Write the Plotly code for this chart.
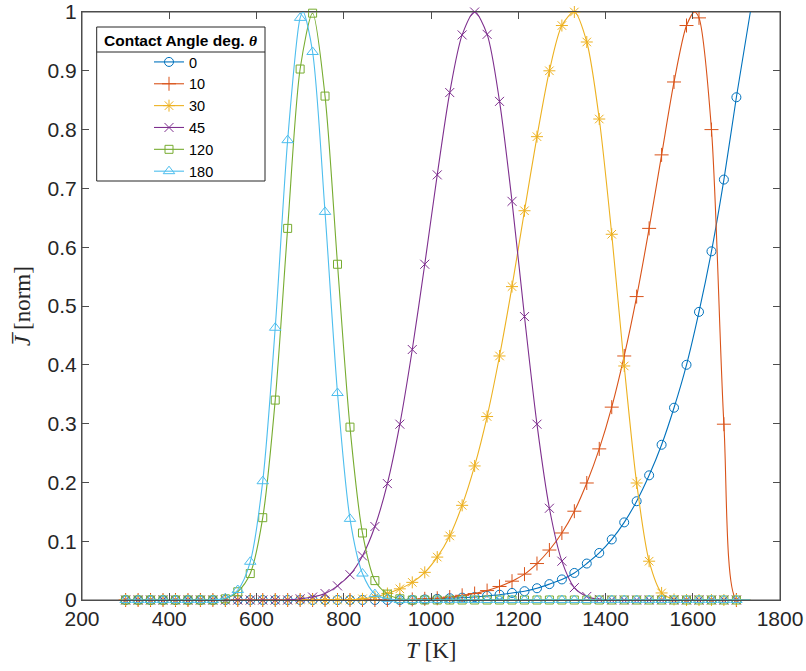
import plotly.graph_objects as go

# ---- data ----
T = [300.0, 328.6, 357.1, 385.7, 414.3, 442.9, 471.4, 500.0, 528.6, 557.1,
     585.7, 614.3, 642.9, 671.4, 700.0, 728.6, 757.1, 785.7, 814.3, 842.9,
     871.4, 900.0, 928.6, 957.1, 985.7, 1014.3, 1042.9, 1071.4, 1100.0, 1128.6,
     1157.1, 1185.7, 1214.3, 1242.9, 1271.4, 1300.0, 1328.6, 1357.1, 1385.7, 1414.3,
     1442.9, 1471.4, 1500.0, 1528.6, 1557.1, 1585.7, 1614.3, 1642.9, 1671.4, 1700.0]

angles = ["0", "10", "30", "45", "120", "180"]

J_0 = [0]*24 + [0.001, 0.002, 0.003, 0.004, 0.005, 0.007, 0.009, 0.012, 0.015, 0.020,
                0.027, 0.035, 0.046, 0.062, 0.080, 0.103, 0.132, 0.168, 0.212, 0.264,
                0.327, 0.400, 0.490, 0.593, 0.715, 0.855]
J_10 = [0]*23 + [0.001, 0.002, 0.003, 0.005, 0.008, 0.011, 0.016, 0.023, 0.032, 0.044,
                 0.062, 0.085, 0.114, 0.151, 0.199, 0.257, 0.328, 0.415, 0.516, 0.632,
                 0.757, 0.881, 0.977, 0.990, 0.800, 0.299, 0.0]
J_30 = [0]*19 + [0.002, 0.005, 0.011, 0.019, 0.030, 0.047, 0.073, 0.109, 0.161, 0.228,
                 0.312, 0.415, 0.533, 0.662, 0.788, 0.900, 0.977, 1.0, 0.949, 0.818,
                 0.622, 0.398, 0.199, 0.066, 0.012, 0.001] + [0]*5
J_45 = [0]*14 + [0.002, 0.005, 0.011, 0.024, 0.043, 0.075, 0.125, 0.198, 0.299, 0.426,
                 0.571, 0.723, 0.863, 0.961, 1.0, 0.962, 0.848, 0.678, 0.482, 0.299,
                 0.156, 0.066, 0.021, 0.006, 0.001] + [0]*11
J_120 = [0]*8 + [0.002, 0.014, 0.045, 0.140, 0.340, 0.632, 0.903, 0.998, 0.857, 0.571,
                 0.294, 0.114, 0.033, 0.010, 0.002] + [0]*27
J_180 = [0]*8 + [0.003, 0.017, 0.065, 0.202, 0.463, 0.782, 0.990, 0.932, 0.660, 0.352,
                 0.138, 0.045, 0.010, 0.002] + [0]*28

series = [J_0, J_10, J_30, J_45, J_120, J_180]

# extra points of the continuous curves (peaks between markers, end of curve)
peak_T = [None, 1604.0, None, None, None, 707.0]
peak_J = [None, 1.0, None, None, None, 1.0]
end_T = 1732.0
end_J = [1.0, 0.0, 0.0, 0.0, 0.0, 0.0]

colors = ["#0072BD", "#D95319", "#EDB120", "#7E2F8E", "#77AC30", "#4DBEEE"]
symbols = ["circle-open", "cross-thin-open", "asterisk-open", "x-thin-open",
           "square-open", "triangle-up-open"]
msizes = [9, 10, 10, 9, 8, 10]

fig = go.Figure()
for i, name in enumerate(angles):
    lx = list(T)
    ly = list(series[i])
    if peak_T[i] is not None:
        lx.append(peak_T[i]); ly.append(peak_J[i])
    lx.append(end_T); ly.append(end_J[i])
    pts = sorted(zip(lx, ly))
    fig.add_trace(go.Scatter(
        x=[p[0] for p in pts], y=[p[1] for p in pts], mode="lines",
        line=dict(color=colors[i], width=1.1, shape="spline", smoothing=0.8),
        showlegend=False, hoverinfo="skip"))
    fig.add_trace(go.Scatter(
        x=T, y=series[i], mode="markers", cliponaxis=False,
        marker=dict(symbol=symbols[i], size=msizes[i], color=colors[i],
                    line=dict(width=1, color=colors[i])),
        showlegend=False))

for i, name in enumerate(angles):
    fig.add_trace(go.Scatter(
        x=[None], y=[None], mode="lines+markers", name=name,
        line=dict(color=colors[i], width=1.1),
        marker=dict(symbol=symbols[i], size=msizes[i], color=colors[i],
                    line=dict(width=1, color=colors[i]))))

FW, FH = 806, 671
L, R, TOP, BOT = 82, 780, 12, 600          # plot area in pixels
W, H = R - L, BOT - TOP
def px(x): return (x - L) / W
def py(y): return (BOT - y) / H

axis_common = dict(showline=True, mirror="ticks", linecolor="#4d4d4d", linewidth=1,
                   ticks="inside", ticklen=7, tickwidth=1, tickcolor="#4d4d4d",
                   showgrid=False, zeroline=False, automargin=False,
                   tickfont=dict(family="Liberation Sans, Arial", size=21, color="#262626"))

title_font = dict(family="Liberation Serif, DejaVu Serif", size=23, color="#262626")

fig.update_layout(
    width=FW, height=FH,
    margin=dict(l=L, r=FW - R, t=TOP, b=FH - BOT, autoexpand=False),
    paper_bgcolor="white", plot_bgcolor="white",
    xaxis=dict(range=[200, 1800], tickvals=[200, 400, 600, 800, 1000, 1200, 1400, 1600, 1800],
               **axis_common),
    yaxis=dict(range=[0, 1], tickvals=[0, 0.1, 0.2, 0.3, 0.4, 0.5, 0.6, 0.7, 0.8, 0.9, 1],
               ticktext=["0", "0.1", "0.2", "0.3", "0.4", "0.5", "0.6", "0.7", "0.8", "0.9", "1"],
               **axis_common),
    legend=dict(x=px(149), y=py(46), xanchor="left", yanchor="top",
                bgcolor="rgba(0,0,0,0)", borderwidth=0,
                font=dict(family="Liberation Sans, Arial", size=14.5, color="#000")),
    shapes=[
        dict(type="rect", xref="paper", yref="paper", x0=0, x1=1, y0=0, y1=1,
             line=dict(color="#4d4d4d", width=1), layer="below"),
        dict(type="rect", xref="paper", yref="paper", x0=px(96.7), x1=px(265),
             y0=py(181), y1=py(27), fillcolor="white", line=dict(color="#262626", width=1),
             layer="above"),
        dict(type="line", xref="paper", yref="paper", x0=px(96.7), x1=px(265),
             y0=py(52), y1=py(52), line=dict(color="#262626", width=1), layer="above"),
    ],
    annotations=[
        dict(text="<b>Contact Angle deg. <span style='font-family:Liberation Serif'><i>θ</i></span></b>",
             xref="paper", yref="paper", x=px(180), y=py(40), xanchor="center", yanchor="middle",
             showarrow=False, font=dict(family="Liberation Sans, Arial", size=15.5, color="#000")),
        dict(text="<i>T</i> [K]", xref="paper", yref="paper", x=px(431), y=py(650),
             xanchor="center", yanchor="middle", showarrow=False, font=title_font),
        dict(text="<i>J\u0305</i> [norm]", xref="paper", yref="paper", x=px(22), y=py(306),
             xanchor="center", yanchor="middle", textangle=-90, showarrow=False, font=title_font),
    ],
)

# remove the browser's default 8px page margin so the figure fills the window
fig.write_html("out.html", config={"displayModeBar": False},
               post_script="document.body.style.margin='0px';")
